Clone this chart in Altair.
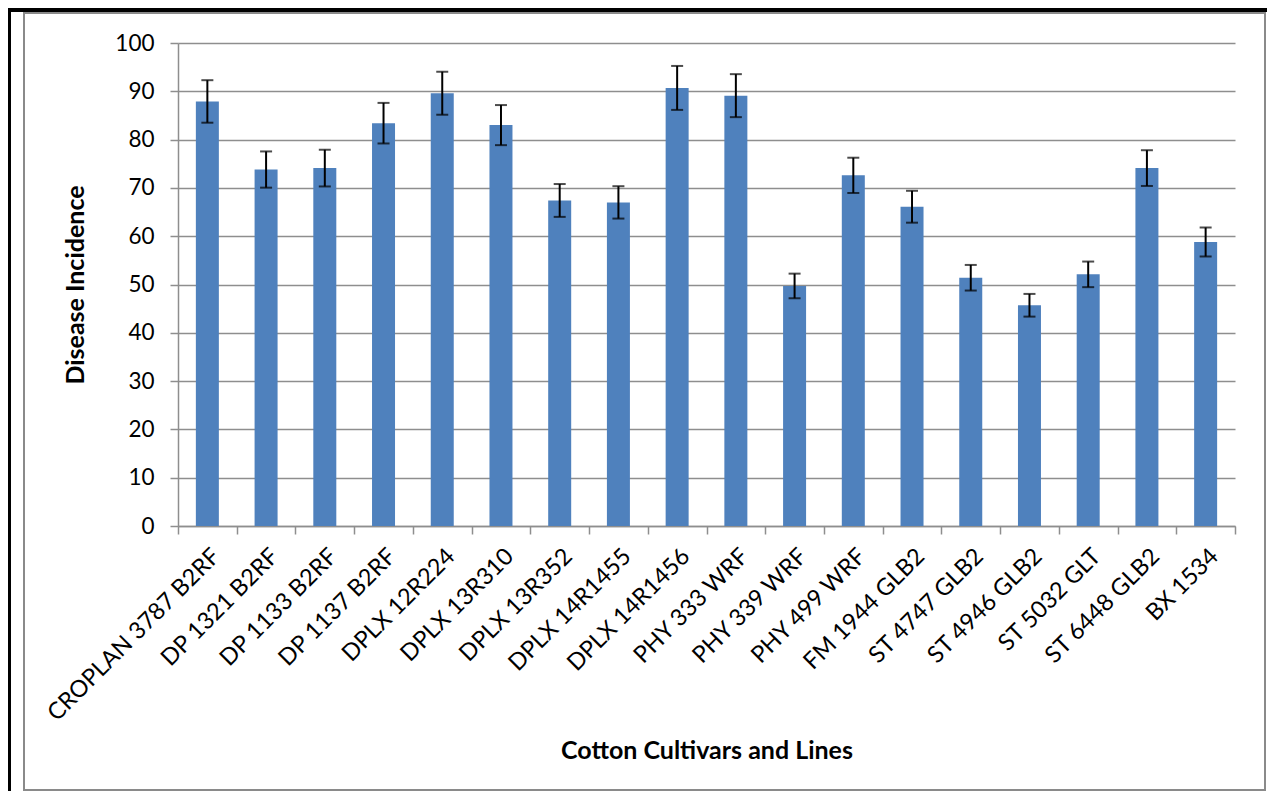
import altair as alt
import pandas as pd

cultivars = [
    "CROPLAN 3787 B2RF", "DP 1321 B2RF", "DP 1133 B2RF", "DP 1137 B2RF",
    "DPLX 12R224", "DPLX 13R310", "DPLX 13R352", "DPLX 14R1455",
    "DPLX 14R1456", "PHY 333 WRF", "PHY 339 WRF", "PHY 499 WRF",
    "FM 1944 GLB2", "ST 4747 GLB2", "ST 4946 GLB2", "ST 5032 GLT",
    "ST 6448 GLB2", "BX 1534",
]
incidence = [87.9, 73.8, 74.1, 83.4, 89.6, 83.0, 67.4, 67.0, 90.7,
             89.1, 49.7, 72.6, 66.1, 51.4, 45.7, 52.1, 74.1, 58.8]
std_err = [4.4, 3.75, 3.8, 4.2, 4.45, 4.15, 3.4, 3.35, 4.55,
           4.45, 2.55, 3.65, 3.3, 2.65, 2.35, 2.65, 3.7, 3.0]
y_ticks = list(range(0, 101, 10))

df = pd.DataFrame({"cultivar": cultivars, "value": incidence, "err": std_err})
df["lo"] = df["value"] - df["err"]
df["hi"] = df["value"] + df["err"]

FONT = "Lato"
GRID = "#8e8e8e"
W, H = 1057, 483

x_enc = alt.X(
    "cultivar:N",
    sort=cultivars,
    scale=alt.Scale(paddingInner=0, paddingOuter=0),
    axis=alt.Axis(
        title="Cotton Cultivars and Lines",
        labelAngle=-45,
        labelFontSize=23.5,
        labelPadding=10,
        labelLimit=0,
        tickBand="extent",
        tickSize=8,
        tickColor=GRID,
        tickWidth=1.5,
        domainColor=GRID,
        domainWidth=1.5,
        grid=False,
        titlePadding=13,
    ),
)
y_scale = alt.Scale(domain=[0, 100], nice=False)

base = alt.Chart(df)

bars = base.mark_bar(color="#4f81bd", size=23).encode(
    x=x_enc,
    y=alt.Y(
        "value:Q",
        scale=y_scale,
        axis=alt.Axis(
            title="Disease Incidence",
            values=y_ticks,
            labelFontSize=22.5,
            labelPadding=16,
            tickSize=8,
            tickColor=GRID,
            tickWidth=1.5,
            domainColor=GRID,
            domainWidth=1.5,
            gridColor=GRID,
            gridWidth=1.5,
            titlePadding=26,
        ),
    ),
)

whisker = base.mark_rule(color="black", strokeWidth=2).encode(
    x=alt.X("cultivar:N", sort=cultivars),
    y=alt.Y("lo:Q", scale=y_scale),
    y2="hi:Q",
)
cap_lo = base.mark_tick(color="black", thickness=2, size=12).encode(
    x=alt.X("cultivar:N", sort=cultivars),
    y=alt.Y("lo:Q", scale=y_scale),
)
cap_hi = base.mark_tick(color="black", thickness=2, size=12).encode(
    x=alt.X("cultivar:N", sort=cultivars),
    y=alt.Y("hi:Q", scale=y_scale),
)

# chart-area frames drawn around the plot, as in the spreadsheet export
inner_frame = base.mark_rect(fill=None, stroke="#8a8a8a", strokeWidth=1.5).encode(
    x=alt.value(24 - 178), x2=alt.value(1265 - 178),
    y=alt.value(13 - 43), y2=alt.value(790 - 43),
)
outer_frame = base.mark_rect(fill=None, stroke="black", strokeWidth=2.5).encode(
    x=alt.value(9 - 178), x2=alt.value(1300 - 178),
    y=alt.value(10 - 43), y2=alt.value(820 - 43),
)

chart = (
    alt.layer(bars, whisker, cap_lo, cap_hi, inner_frame, outer_frame)
    .properties(
        width=W,
        height=H,
        autosize=alt.AutoSizeParams(type="none"),
        padding={"left": 170, "top": 35, "right": 32, "bottom": 265},
    )
    .configure_view(stroke=None)
    .configure_axis(
        labelFont=FONT,
        titleFont=FONT,
        labelColor="black",
        titleColor="black",
        titleFontSize=25,
        titleFontWeight="bold",
    )
)

chart.save("out.html", embed_options={"renderer": "svg", "actions": False})
